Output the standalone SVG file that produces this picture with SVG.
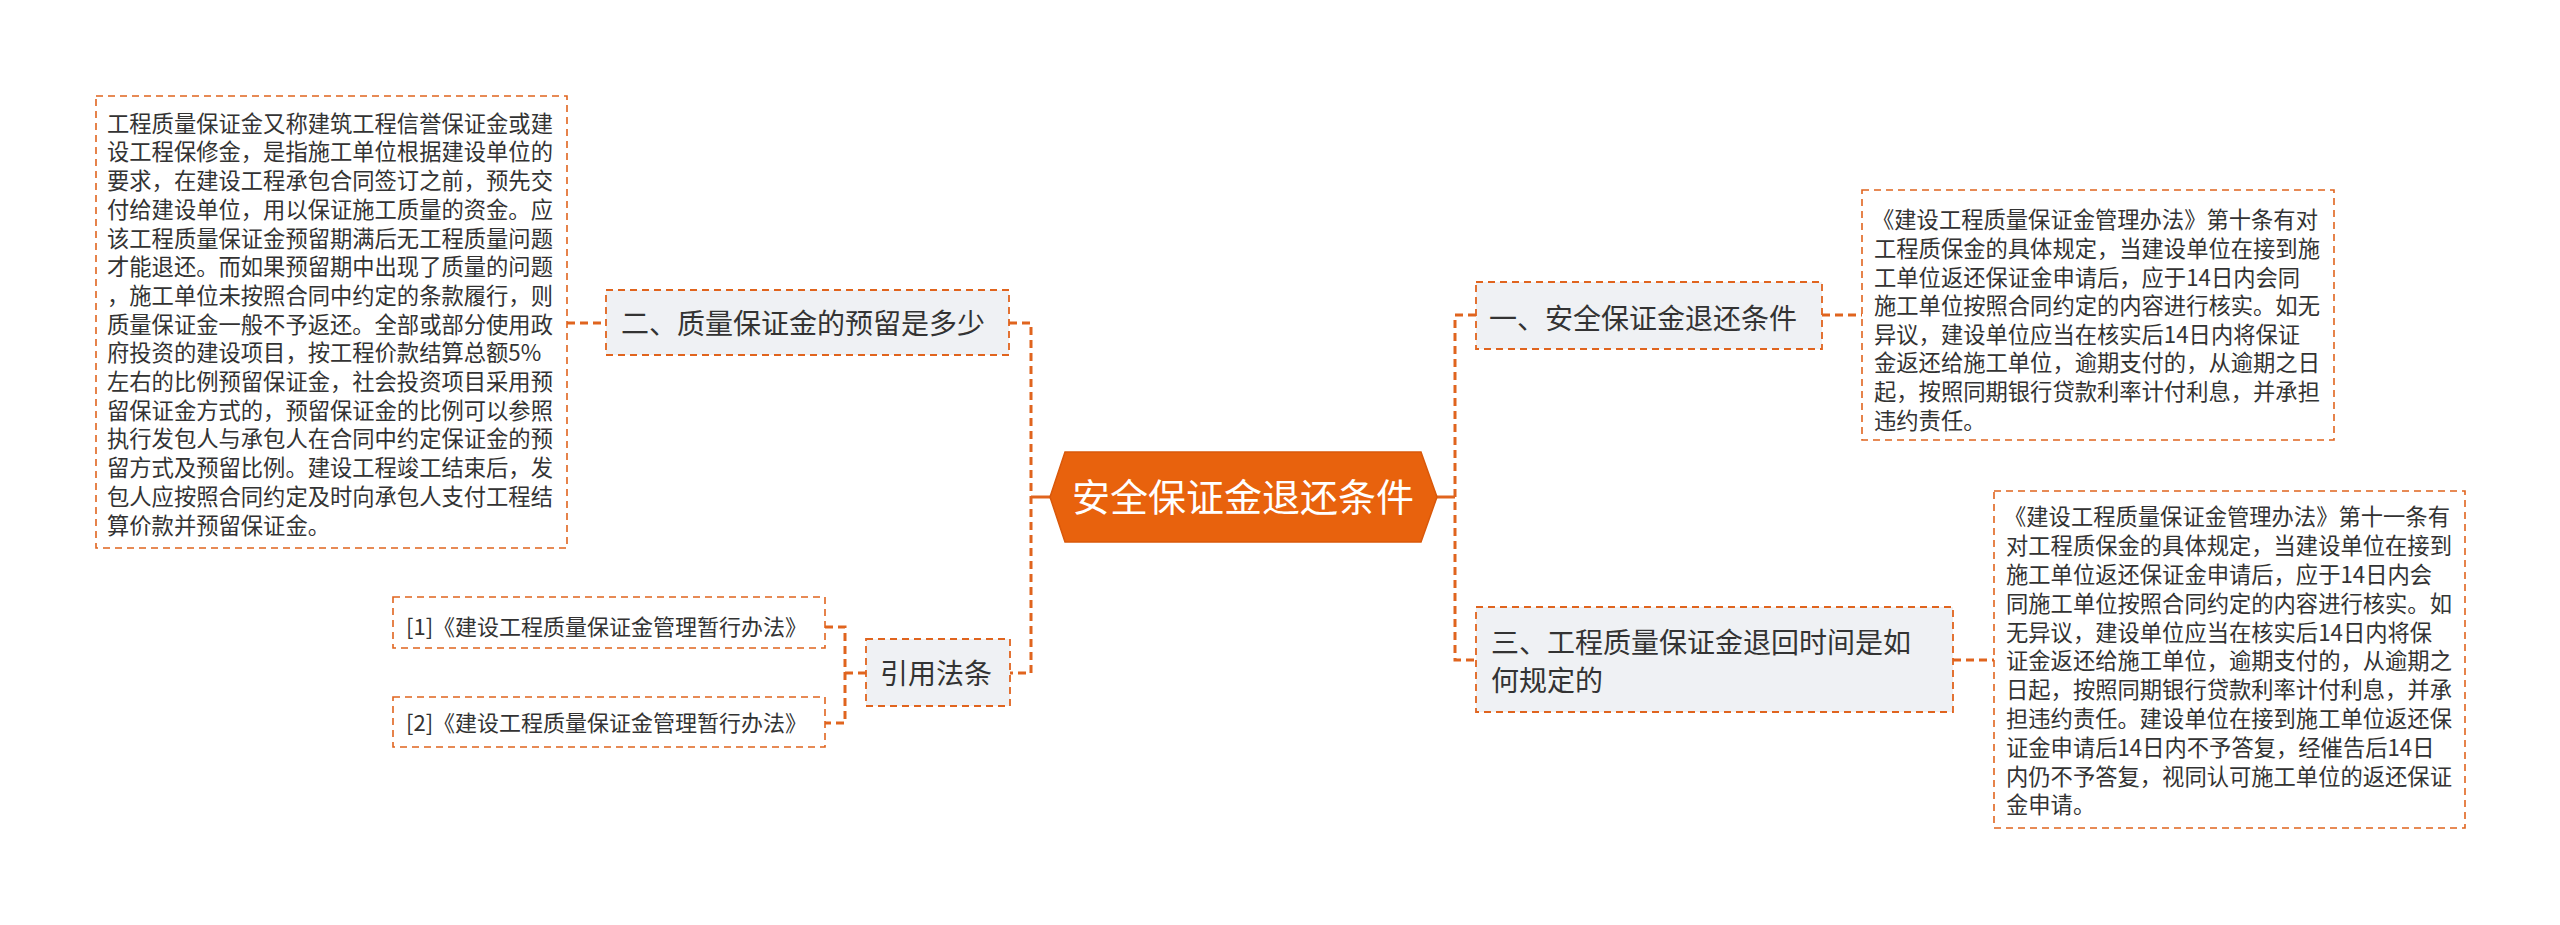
<svg xmlns="http://www.w3.org/2000/svg" width="2560" height="925" viewBox="0 0 2560 925">
<style>
.box{fill:#ffffff;stroke:#E0641E;stroke-width:1.6;stroke-dasharray:7 5}
.node{fill:#EFF1F4;stroke:#E0641E;stroke-width:1.8;stroke-dasharray:7 5}
.conn{fill:none;stroke:#E0641E;stroke-width:3;stroke-dasharray:8 5}
.solid{fill:none;stroke:#E0641E;stroke-width:3}
.body{font-family:"Noto Sans CJK SC","Liberation Sans",sans-serif;font-size:22.3px;fill:#333333}
.ref{font-family:"Noto Sans CJK SC","Liberation Sans",sans-serif;font-size:22px;fill:#333333}
.lbl{font-family:"Noto Sans CJK SC","Liberation Sans",sans-serif;font-size:28px;fill:#333333}
.title{font-family:"Noto Sans CJK SC","Liberation Sans",sans-serif;font-size:38px;fill:#ffffff}
</style>
<rect width="2560" height="925" fill="#ffffff"/>
<g id="connectors">
<polyline class="conn" points="567,323 606,323"/>
<polyline class="conn" points="1009,323 1031,323 1031,673 1010,673"/>
<polyline class="solid" points="1031,497 1050,497"/>
<polyline class="conn" points="825,627 845,627 845,723 825,723"/>
<polyline class="conn" points="845,673 866,673"/>
<polyline class="solid" points="1437,497 1455,497"/>
<polyline class="conn" points="1476,315 1455,315 1455,660 1476,660"/>
<polyline class="conn" points="1822,315 1862,315"/>
<polyline class="conn" points="1953,660 1994,660"/>
</g>
<g id="center">
<polygon points="1065,452 1421,452 1437,497 1421,542 1065,542 1050,497" fill="#E8620D" stroke="#D9580A" stroke-width="1.5"/>
<text class="title" x="1243" y="511" text-anchor="middle">安全保证金退还条件</text>
</g>
<g id="node-two">
<rect class="node" x="606" y="290" width="403" height="65"/>
<text class="lbl" x="621" y="334">二、质量保证金的预留是多少</text>
</g>
<g id="text-two">
<rect class="box" x="96" y="96" width="471" height="452"/>
<text class="body">
<tspan x="107" y="131.7">工程质量保证金又称建筑工程信誉保证金或建</tspan>
<tspan x="107" y="160.4">设工程保修金，是指施工单位根据建设单位的</tspan>
<tspan x="107" y="189.1">要求，在建设工程承包合同签订之前，预先交</tspan>
<tspan x="107" y="217.8">付给建设单位，用以保证施工质量的资金。应</tspan>
<tspan x="107" y="246.5">该工程质量保证金预留期满后无工程质量问题</tspan>
<tspan x="107" y="275.2">才能退还。而如果预留期中出现了质量的问题</tspan>
<tspan x="107" y="303.9">，施工单位未按照合同中约定的条款履行，则</tspan>
<tspan x="107" y="332.6">质量保证金一般不予返还。全部或部分使用政</tspan>
<tspan x="107" y="361.3">府投资的建设项目，按工程价款结算总额5%</tspan>
<tspan x="107" y="390.0">左右的比例预留保证金，社会投资项目采用预</tspan>
<tspan x="107" y="418.7">留保证金方式的，预留保证金的比例可以参照</tspan>
<tspan x="107" y="447.4">执行发包人与承包人在合同中约定保证金的预</tspan>
<tspan x="107" y="476.1">留方式及预留比例。建设工程竣工结束后，发</tspan>
<tspan x="107" y="504.8">包人应按照合同约定及时向承包人支付工程结</tspan>
<tspan x="107" y="533.5">算价款并预留保证金。</tspan>
</text>
</g>
<g id="node-refs">
<rect class="node" x="866" y="639" width="144" height="67"/>
<text class="lbl" x="880" y="684">引用法条</text>
</g>
<g id="ref-1">
<rect class="box" x="393" y="597" width="432" height="51"/>
<text class="ref" x="406" y="635">[1]《建设工程质量保证金管理暂行办法》</text>
</g>
<g id="ref-2">
<rect class="box" x="393" y="697" width="432" height="50"/>
<text class="ref" x="406" y="731">[2]《建设工程质量保证金管理暂行办法》</text>
</g>
<g id="node-one">
<rect class="node" x="1476" y="282" width="346" height="67"/>
<text class="lbl" x="1489" y="328.6">一、安全保证金退还条件</text>
</g>
<g id="text-one">
<rect class="box" x="1862" y="190" width="472" height="250"/>
<text class="body">
<tspan x="1872" y="228.4">《建设工程质量保证金管理办法》第十条有对</tspan>
<tspan x="1874" y="257.0">工程质保金的具体规定，当建设单位在接到施</tspan>
<tspan x="1874" y="285.6">工单位返还保证金申请后，应于14日内会同</tspan>
<tspan x="1874" y="314.2">施工单位按照合同约定的内容进行核实。如无</tspan>
<tspan x="1874" y="342.8">异议，建设单位应当在核实后14日内将保证</tspan>
<tspan x="1874" y="371.4">金返还给施工单位，逾期支付的，从逾期之日</tspan>
<tspan x="1874" y="400.0">起，按照同期银行贷款利率计付利息，并承担</tspan>
<tspan x="1874" y="428.6">违约责任。</tspan>
</text>
</g>
<g id="node-three">
<rect class="node" x="1476" y="607" width="477" height="105"/>
<text class="lbl">
<tspan x="1491" y="652.6">三、工程质量保证金退回时间是如</tspan>
<tspan x="1491" y="690.6">何规定的</tspan>
</text>
</g>
<g id="text-three">
<rect class="box" x="1994" y="491" width="471" height="337"/>
<text class="body">
<tspan x="2004" y="525.4">《建设工程质量保证金管理办法》第十一条有</tspan>
<tspan x="2006" y="554.2">对工程质保金的具体规定，当建设单位在接到</tspan>
<tspan x="2006" y="583.0">施工单位返还保证金申请后，应于14日内会</tspan>
<tspan x="2006" y="611.8">同施工单位按照合同约定的内容进行核实。如</tspan>
<tspan x="2006" y="640.6">无异议，建设单位应当在核实后14日内将保</tspan>
<tspan x="2006" y="669.4">证金返还给施工单位，逾期支付的，从逾期之</tspan>
<tspan x="2006" y="698.2">日起，按照同期银行贷款利率计付利息，并承</tspan>
<tspan x="2006" y="727.0">担违约责任。建设单位在接到施工单位返还保</tspan>
<tspan x="2006" y="755.8">证金申请后14日内不予答复，经催告后14日</tspan>
<tspan x="2006" y="784.6">内仍不予答复，视同认可施工单位的返还保证</tspan>
<tspan x="2006" y="813.4">金申请。</tspan>
</text>
</g>
</svg>
